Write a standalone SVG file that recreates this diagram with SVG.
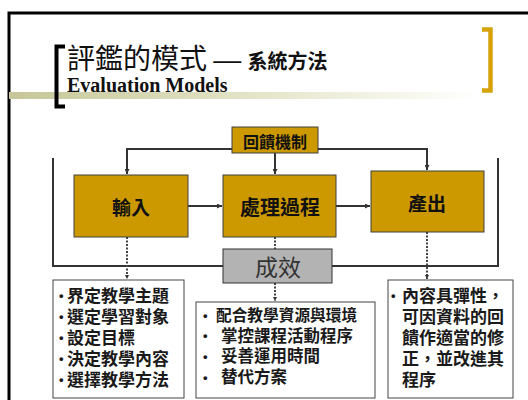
<svg xmlns="http://www.w3.org/2000/svg" width="528" height="400" viewBox="0 0 528 400">
<defs>
<linearGradient id="bar" x1="0" x2="1" y1="0" y2="0">
<stop offset="0" stop-color="#C6C699"/>
<stop offset="0.55" stop-color="#E6E6CC"/>
<stop offset="1" stop-color="#FFFFFF"/>
</linearGradient>
<marker id="ah" viewBox="0 0 10 10" refX="10" refY="5" markerWidth="5" markerHeight="5" markerUnits="userSpaceOnUse" orient="auto">
<path d="M0,0 L10,5 L0,10 z" fill="#333"/>
</marker>
<marker id="ahs" viewBox="0 0 10 10" refX="10" refY="5" markerWidth="4" markerHeight="4" markerUnits="userSpaceOnUse" orient="auto">
<path d="M0,0 L10,5 L0,10 z" fill="#333"/>
</marker>
</defs>
<style>
.cjk{font-family:"Noto Sans CJK TC","Noto Sans CJK SC",sans-serif;}
.gold{fill:#CC9900;stroke:#404040;stroke-width:1;}
.lbl{font-family:"Noto Sans CJK TC",sans-serif;font-weight:bold;fill:#111;text-anchor:middle;dominant-baseline:central;}
.list{fill:#fff;stroke:#444;stroke-width:1;}
.lt{font-family:"Noto Sans CJK TC",sans-serif;font-weight:bold;fill:#1a1a1a;}
.bu{font-family:"Liberation Sans",sans-serif;font-weight:bold;fill:#1a1a1a;font-size:13px;}
.solid{stroke:#333;stroke-width:2;fill:none;}
.dot{stroke:#444;stroke-width:2;stroke-dasharray:2 1.5;fill:none;}
</style>
<rect width="528" height="400" fill="#fff"/>
<!-- frame -->
<path d="M9,400 V13 H528" fill="none" stroke="#000" stroke-width="3"/>
<!-- title area -->
<rect x="9" y="92" width="470" height="7" fill="url(#bar)"/>
<path d="M65,46.5 H56.5 V106.5 H65" fill="none" stroke="#000" stroke-width="4"/>
<path d="M482,29.5 H490.5 V90.5 H482" fill="none" stroke="#D6A30A" stroke-width="4.5"/>
<text x="67" y="69" class="cjk" font-size="28" fill="#111">評鑑的模式 <tspan font-family="Liberation Sans,sans-serif" font-size="28">—</tspan> <tspan font-size="20" font-weight="bold">系統方法</tspan></text>
<text x="67" y="92" font-family="Liberation Serif,serif" font-weight="bold" font-size="20" fill="#111">Evaluation Models</text>
<!-- connectors -->
<g id="connectors">
<path class="solid" d="M53,158 V266 H498 V158" stroke-width="3"/>
<path class="solid" d="M232,149 H127 V174" marker-end="url(#ah)"/>
<path class="solid" d="M275,153 V174" marker-end="url(#ah)"/>
<path class="solid" d="M318,149 H427 V170" marker-end="url(#ah)"/>
<path class="solid" d="M188,206 H222" marker-end="url(#ah)"/>
<path class="solid" d="M336,206 H370" marker-end="url(#ah)"/>
<path class="dot" d="M127,237 V279" marker-end="url(#ahs)"/>
<path class="dot" d="M275,237 V249"/>
<path class="dot" d="M275,283 V301" marker-end="url(#ahs)"/>
<path class="dot" d="M427,232 V279" marker-end="url(#ahs)"/>
</g>
<g id="feedback">
<rect class="gold" x="232" y="127" width="86" height="26"/>
<text class="lbl" x="275" y="141" font-size="16">回饋機制</text>
</g>
<g id="input">
<rect class="gold" x="74" y="175" width="114" height="62"/>
<text class="lbl" x="131" y="206" font-size="19">輸入</text>
</g>
<g id="process">
<rect class="gold" x="223" y="175" width="113" height="62"/>
<text class="lbl" x="280" y="206" font-size="20">處理過程</text>
</g>
<g id="output">
<rect class="gold" x="371" y="171" width="113" height="61"/>
<text class="lbl" x="427" y="202" font-size="19">產出</text>
</g>
<g id="effect">
<rect x="223" y="249" width="109" height="34" fill="#B3B3B3" stroke="#333" stroke-width="1"/>
<text x="278" y="266" font-size="23" class="cjk" fill="#333" text-anchor="middle" dominant-baseline="central">成效</text>
</g>
<g id="list-input">
<rect class="list" x="53" y="280" width="131" height="118"/>
<text class="bu"><tspan x="59" y="300">•</tspan><tspan x="59" y="321">•</tspan><tspan x="59" y="342">•</tspan><tspan x="59" y="363">•</tspan><tspan x="59" y="384">•</tspan></text>
<text class="lt" font-size="17">
<tspan x="67" y="301.5">界定教學主題</tspan>
<tspan x="67" y="322.5">選定學習對象</tspan>
<tspan x="67" y="343.5">設定目標</tspan>
<tspan x="67" y="364.5">決定教學內容</tspan>
<tspan x="67" y="385.5">選擇教學方法</tspan>
</text>
</g>
<g id="list-process">
<rect class="list" x="196" y="302" width="179" height="96"/>
<text class="bu"><tspan x="203" y="320">•</tspan><tspan x="203" y="340">•</tspan><tspan x="203" y="361">•</tspan><tspan x="203" y="382">•</tspan></text>
<text class="lt" font-size="15.7">
<tspan x="216" y="321">配合教學資源與環境</tspan>
</text>
<text class="lt" font-size="16.5">
<tspan x="221" y="341.5">掌控課程活動程序</tspan>
<tspan x="221" y="362">妥善運用時間</tspan>
<tspan x="221" y="383">替代方案</tspan>
</text>
</g>
<g id="list-output">
<rect class="list" x="388" y="280" width="125" height="118"/>
<text class="bu"><tspan x="391" y="300">•</tspan></text>
<text class="lt" font-size="17">
<tspan x="402" y="301.5">內容具彈性，</tspan>
<tspan x="402" y="322.5">可因資料的回</tspan>
<tspan x="402" y="343.5">饋作適當的修</tspan>
<tspan x="402" y="364.5">正，並改進其</tspan>
<tspan x="402" y="385.5">程序</tspan>
</text>
</g>
</svg>
